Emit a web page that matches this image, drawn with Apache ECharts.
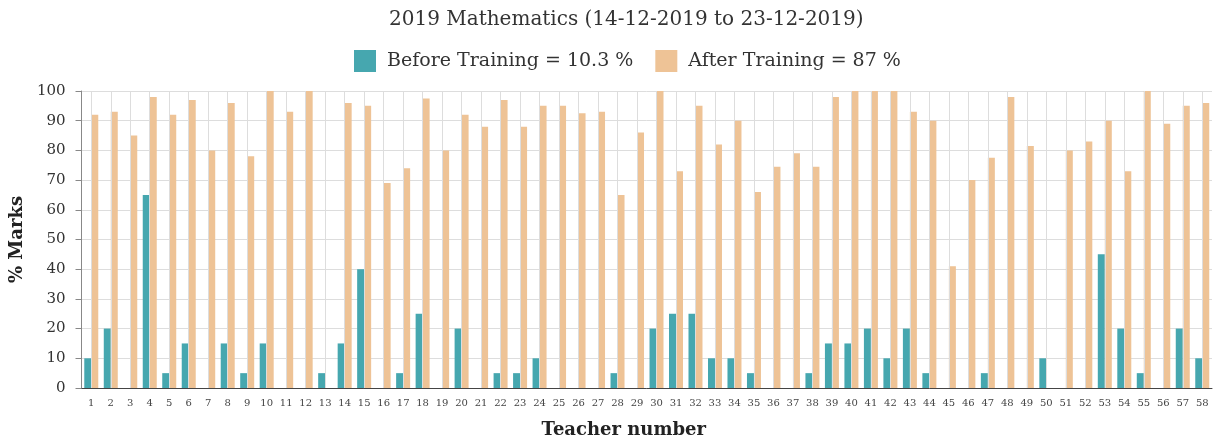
<!DOCTYPE html>
<html>
<head>
<meta charset="utf-8">
<script src="https://cdn.jsdelivr.net/npm/echarts@6/dist/echarts.min.js"></script>
<style>
  html, body { margin: 0; padding: 0; background: #fff; }
  #chart { width: 1216px; height: 444px; }
</style>
</head>
<body>
<div id="chart"></div>
<script>
// teacher numbers 1..58
var teachers = ['1','2','3','4','5','6','7','8','9','10','11','12','13','14','15','16','17','18','19','20',
  '21','22','23','24','25','26','27','28','29','30','31','32','33','34','35','36','37','38','39','40',
  '41','42','43','44','45','46','47','48','49','50','51','52','53','54','55','56','57','58'];

// % marks before training
var beforeTraining = [10, 20, 0, 65, 5, 15, 0, 15, 5, 15, 0, 0, 5, 15, 40, 0, 5, 25, 0, 20,
  0, 5, 5, 10, 0, 0, 0, 5, 0, 20, 25, 25, 10, 10, 5, 0, 0, 5, 15, 15,
  20, 10, 20, 5, 0, 0, 5, 0, 0, 10, 0, 0, 45, 20, 5, 0, 20, 10];

// % marks after training
var afterTraining = [92, 93, 85, 98, 92, 97, 80, 96, 78, 100, 93, 100, 0, 96, 95, 69, 74, 97.5, 80, 92,
  88, 97, 88, 95, 95, 92.5, 93, 65, 86, 100, 73, 95, 82, 90, 66, 74.5, 79, 74.5, 98, 100,
  100, 100, 93, 90, 41, 70, 77.5, 98, 81.5, 0, 80, 83, 90, 73, 100, 89, 95, 96];

var seriesNames = ['Before Training = 10.3 %', 'After Training = 87 %'];
var yTicks = [0, 10, 20, 30, 40, 50, 60, 70, 80, 90, 100];

var font = '"DejaVu Serif", serif';
var chart = echarts.init(document.getElementById('chart'));
var option = {
  animation: false,
  title: {
    text: '2019 Mathematics (14-12-2019 to 23-12-2019)',
    left: 384,
    top: 5,
    textStyle: { fontFamily: font, fontSize: 20, fontWeight: 'normal', color: '#333' }
  },
  legend: {
    top: 45,
    left: 349,
    itemWidth: 22,
    itemHeight: 22,
    itemGap: 22,
    icon: 'rect',
    textStyle: { fontFamily: font, fontSize: 19, color: '#333', padding: [0, 0, 0, 6] },
    data: seriesNames
  },
  grid: { left: 80, right: 4, top: 91, bottom: 54 },
  xAxis: {
    type: 'category',
    data: teachers,
    name: 'Teacher number',
    nameLocation: 'middle',
    nameGap: 33,
    nameTextStyle: { fontFamily: font, fontSize: 18, fontWeight: 'bold', color: '#222', padding: [0, 46, 0, 0] },
    axisLine: { lineStyle: { color: '#444' } },
    axisTick: { alignWithLabel: true, length: 6, lineStyle: { color: '#666' } },
    axisLabel: { fontFamily: font, fontSize: 10, color: '#444', interval: 0, margin: 10 },
    splitLine: { show: false }
  },
  yAxis: {
    type: 'value',
    min: yTicks[0],
    max: yTicks[yTicks.length - 1],
    interval: 10,
    name: '% Marks',
    nameLocation: 'middle',
    nameGap: 50,
    nameTextStyle: { fontFamily: font, fontSize: 18, fontWeight: 'bold', color: '#222' },
    axisLine: { show: true, lineStyle: { color: '#888' } },
    axisTick: { show: true, length: 6, lineStyle: { color: '#888' } },
    axisLabel: { fontFamily: font, fontSize: 15, color: '#333', margin: 16 },
    splitLine: { show: true, lineStyle: { color: '#ddd' } }
  },
  series: [
    {
      // vertical grid lines through each teacher's tick
      type: 'line',
      data: [],
      z: 1,
      silent: true,
      markLine: {
        silent: true,
        symbol: ['none', 'none'],
        label: { show: false },
        lineStyle: { color: '#ddd', type: 'solid', width: 1 },
        data: teachers.map(function (t) { return { xAxis: t }; })
      }
    },
    {
      name: seriesNames[0],
      type: 'bar',
      data: beforeTraining,
      barWidth: 7,
      barGap: '0%',
      z: 2,
      itemStyle: { color: '#46a7af' }
    },
    {
      name: seriesNames[1],
      type: 'bar',
      data: afterTraining,
      barWidth: 7,
      barGap: '0%',
      z: 2,
      itemStyle: { color: '#eec396' }
    }
  ]
};
chart.setOption(option);
</script>
</body>
</html>
